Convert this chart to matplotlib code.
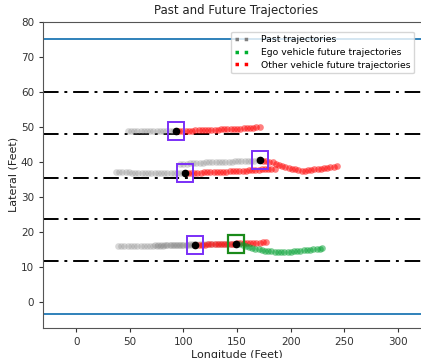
import matplotlib
matplotlib.use("Agg")
import matplotlib.pyplot as plt
from matplotlib.patches import Rectangle
from matplotlib.lines import Line2D

# Lane markings (feet)
road_edges = [75.0, -3.4]
lane_lines = [60.0, 48.0, 35.4, 23.6, 11.6]

# Past trajectories (longitude, lateral)
past_a_x = [48, 51, 54, 57, 60, 63, 66, 69, 72, 75, 78, 81, 84, 87, 90, 93]
past_a_y = [48.7, 48.7, 48.7, 48.7, 48.7, 48.7, 48.7, 48.8, 48.8, 48.8, 48.8, 48.8, 48.8, 48.8, 48.8, 48.8]
past_b_x = [37, 40, 43, 46, 49, 52, 55, 58, 61, 64, 67, 70, 73, 76, 79, 82, 85, 88, 91, 94, 97, 100]
past_b_y = [37.1, 37.0, 37.0, 37.0, 37.0, 36.9, 36.9, 36.9, 36.9, 36.9, 36.9, 36.9, 36.9, 36.8, 36.8, 36.8, 36.8, 36.8, 36.8, 36.7, 36.7, 36.7]
past_c_x = [97, 100, 103, 106, 109, 112, 115, 118, 121, 124, 127, 130, 133, 136, 139, 142, 145, 148, 151, 154, 157, 160, 163, 166, 169]
past_c_y = [39.4, 39.5, 39.5, 39.6, 39.6, 39.7, 39.7, 39.7, 39.8, 39.8, 39.8, 39.9, 39.9, 39.9, 40.0, 40.0, 40.0, 40.1, 40.1, 40.2, 40.2, 40.2, 40.3, 40.3, 40.4]
past_d_x = [39, 42, 45, 48, 51, 54, 57, 60, 63, 66, 69, 72, 75, 78, 81, 84, 87, 90, 93, 96, 99, 102, 105, 108]
past_d_y = [16.0, 16.0, 16.0, 16.0, 16.0, 16.0, 16.0, 16.0, 16.0, 16.0, 16.0, 16.0, 16.0, 16.0, 16.0, 16.1, 16.1, 16.1, 16.1, 16.1, 16.1, 16.1, 16.1, 16.1]
past_ego_x = [73, 76, 79, 82, 85, 88, 91, 94, 97, 100, 103, 106, 109, 112, 115, 118, 121, 124, 127, 130, 133, 136, 139, 142, 145, 148]
past_ego_y = [16.2, 16.2, 16.2, 16.2, 16.2, 16.3, 16.3, 16.3, 16.3, 16.3, 16.3, 16.4, 16.4, 16.4, 16.4, 16.4, 16.4, 16.5, 16.5, 16.5, 16.5, 16.5, 16.6, 16.6, 16.6, 16.6]

# Future trajectories
fut_a_x = [96, 99, 102, 105, 108, 111, 114, 117, 120, 123, 126, 129, 132, 135, 138, 141, 144, 147, 150, 153, 156, 159, 162, 165, 168, 171]
fut_a_y = [48.8, 48.8, 48.9, 48.9, 48.9, 49.0, 49.0, 49.0, 49.1, 49.1, 49.2, 49.2, 49.2, 49.3, 49.3, 49.4, 49.4, 49.4, 49.5, 49.5, 49.6, 49.6, 49.7, 49.7, 49.8, 49.8]
fut_b_x = [104, 107, 110, 113, 116, 119, 122, 125, 128, 131, 134, 137, 140, 143, 146, 149, 152, 155, 158, 161, 164, 167, 170, 173, 176, 179, 182, 185]
fut_b_y = [36.8, 36.8, 36.9, 36.9, 36.9, 37.0, 37.0, 37.0, 37.1, 37.1, 37.1, 37.2, 37.2, 37.3, 37.3, 37.4, 37.4, 37.5, 37.5, 37.6, 37.6, 37.7, 37.7, 37.8, 37.8, 37.9, 37.9, 38.0]
fut_c_x = [174, 177, 180, 183, 186, 189, 192, 195, 198, 201, 204, 207, 210, 213, 216, 219, 222, 225, 228, 231, 234, 237, 240, 243]
fut_c_y = [40.3, 40.2, 40.0, 39.8, 39.5, 39.2, 38.9, 38.6, 38.3, 38.0, 37.8, 37.6, 37.5, 37.5, 37.6, 37.7, 37.8, 37.9, 38.0, 38.1, 38.2, 38.4, 38.6, 38.9]
fut_d_x = [114, 117, 120, 123, 126, 129, 132, 135, 138, 141, 144, 147, 150, 153, 156, 159, 162, 165, 168, 171, 174, 177]
fut_d_y = [16.3, 16.3, 16.3, 16.4, 16.4, 16.4, 16.5, 16.5, 16.5, 16.6, 16.6, 16.6, 16.7, 16.7, 16.7, 16.8, 16.8, 16.8, 16.9, 16.9, 17.0, 17.0]
fut_ego_x = [152, 155, 158, 161, 164, 167, 170, 173, 176, 179, 182, 185, 188, 191, 194, 197, 200, 203, 206, 209, 212, 215, 218, 221, 224, 227, 229]
fut_ego_y = [16.4, 16.1, 15.8, 15.6, 15.4, 15.2, 15.0, 14.8, 14.6, 14.5, 14.4, 14.3, 14.2, 14.1, 14.1, 14.2, 14.3, 14.4, 14.5, 14.6, 14.7, 14.8, 14.9, 15.0, 15.1, 15.2, 15.3]

# Current positions
other_now_x = [93, 101, 171, 111]
other_now_y = [48.8, 36.7, 40.4, 16.1]
ego_now_x = [149]
ego_now_y = [16.6]

box_w = 15.0
box_h = 5.2

fig = plt.figure(figsize=(4.21, 3.58), dpi=100)
ax = fig.add_axes([0.102, 0.084, 0.92, 0.855])

for y in road_edges:
    ax.axhline(y, color='#1f77b4', lw=1.3, zorder=1)
for y in lane_lines:
    ax.axhline(y, color='black', lw=1.4, linestyle='-.', dashes=(8, 3, 1.5, 3), zorder=1)

ms = 4.8
for px, py in [(past_a_x, past_a_y), (past_b_x, past_b_y), (past_c_x, past_c_y),
               (past_d_x, past_d_y), (past_ego_x, past_ego_y)]:
    ax.plot(px, py, 'o', color='gray', alpha=0.3, ms=ms, mec='none', zorder=2)
for fx, fy in [(fut_a_x, fut_a_y), (fut_b_x, fut_b_y), (fut_c_x, fut_c_y), (fut_d_x, fut_d_y)]:
    ax.plot(fx, fy, 'o', color='red', alpha=0.5, ms=ms, mec='none', zorder=2)
ax.plot(fut_ego_x, fut_ego_y, 'o', color='#00a030', alpha=0.5, ms=ms, mec='none', zorder=2)

for x, y in zip(other_now_x, other_now_y):
    ax.add_patch(Rectangle((x - box_w / 2, y - box_h / 2), box_w, box_h, fill=False,
                           edgecolor='#7a2ff7', lw=1.4, zorder=4))
for x, y in zip(ego_now_x, ego_now_y):
    ax.add_patch(Rectangle((x - box_w / 2, y - box_h / 2), box_w, box_h, fill=False,
                           edgecolor='#1a8a1a', lw=1.6, zorder=4))
ax.plot(other_now_x + ego_now_x, other_now_y + ego_now_y, 'o', color='black', ms=4.5, zorder=5)

ax.set_xlim(-31, 330)
ax.set_ylim(-7.5, 80)
ax.set_xticks([0, 50, 100, 150, 200, 250, 300])
ax.set_yticks([0, 10, 20, 30, 40, 50, 60, 70, 80])
ax.tick_params(labelsize=7.5, colors='#333333', length=3)
for s in ax.spines.values():
    s.set_color('#555555')
ax.set_title('Past and Future Trajectories', fontsize=8.5, color='#222222')
ax.set_xlabel('Longitude (Feet)', fontsize=8, color='#222222', labelpad=2)
ax.set_ylabel('Lateral (Feet)', fontsize=8, color='#222222', labelpad=2)

handles = [Line2D([], [], color='gray', ls=':', lw=2.5),
           Line2D([], [], color='#00b030', ls=':', lw=2.5),
           Line2D([], [], color='red', ls=':', lw=2.5)]
ax.legend(handles, ['Past trajectories', 'Ego vehicle future trajectories',
                    'Other vehicle future trajectories'],
          loc='upper right', bbox_to_anchor=(0.995, 0.925), bbox_transform=fig.transFigure,
          fontsize=6.7, handlelength=2.0, borderpad=0.4, labelspacing=0.4, framealpha=0.8)

fig.savefig('out.png', dpi=100)
